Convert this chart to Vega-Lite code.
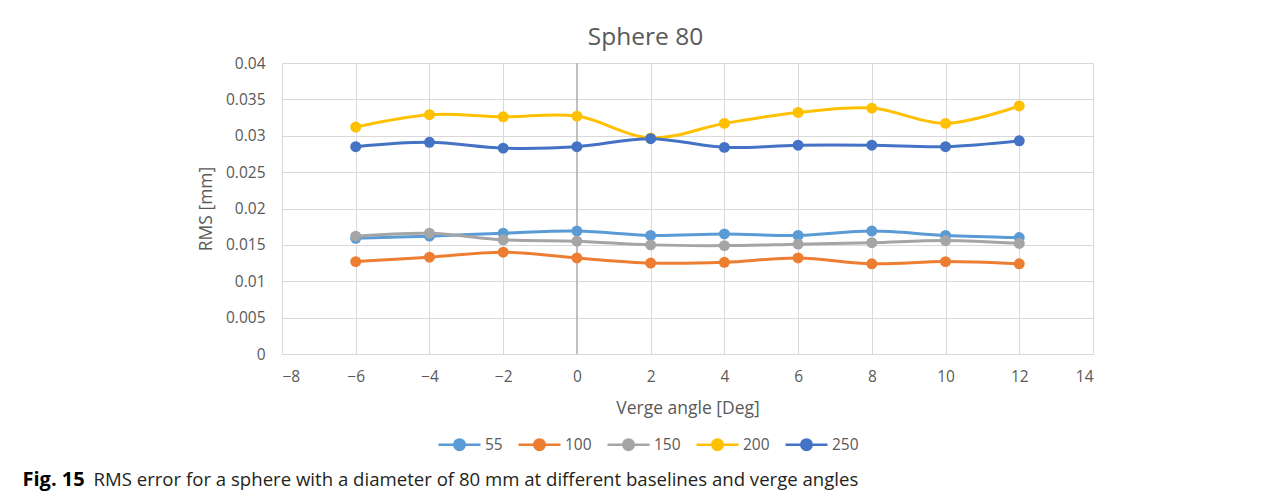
{
  "$schema": "https://vega.github.io/schema/vega-lite/v6.json",
  "width": 811,
  "height": 291,
  "autosize": {"type": "none"},
  "padding": {"left": 282, "top": 63, "right": 191, "bottom": 141},
  "background": "white",
  "title": {
    "text": "Sphere 80",
    "anchor": "middle",
    "frame": "group",
    "dx": -42,
    "dy": 30,
    "offset": 17,
    "baseline": "alphabetic",
    "font": "Open Sans",
    "fontSize": 24.5,
    "fontWeight": "normal",
    "color": "#595959"
  },
  "config": {
    "view": {"stroke": null},
    "font": "Open Sans",
    "axis": {
      "labelFont": "Open Sans",
      "titleFont": "Open Sans",
      "labelColor": "#595959",
      "titleColor": "#595959",
      "labelFontSize": 15.5,
      "titleFontSize": 17.5,
      "titleFontWeight": "normal",
      "gridColor": "#D9D9D9",
      "gridWidth": 1,
      "ticks": false
    }
  },
  "resolve": {"axis": {"x": "independent"}},
  "layer": [
    {
      "data": {"values": [{"angle": 0}]},
      "mark": {"type": "rule", "color": "#A6A6A6", "strokeWidth": 1.2},
      "encoding": {
        "x": {
          "field": "angle",
          "type": "quantitative",
          "scale": {"domain": [-8, 14], "nice": false},
          "axis": {
            "orient": "top",
            "title": "Fig. 15",
            "titleFontWeight": "bold",
            "titleColor": "#000000",
            "titleFontSize": 20,
            "titleX": -260,
            "titleY": 422,
            "titleAngle": 0,
            "titleAlign": "left",
            "titleAnchor": "start",
            "titleBaseline": "alphabetic",
            "labels": false,
            "domain": false,
            "grid": false,
            "ticks": false
          }
        }
      }
    },
    {
      "data": {
        "values": [
          {"angle": -6, "baseline": "55", "rms": 0.0159},
          {"angle": -4, "baseline": "55", "rms": 0.0162},
          {"angle": -2, "baseline": "55", "rms": 0.0166},
          {"angle": 0, "baseline": "55", "rms": 0.0169},
          {"angle": 2, "baseline": "55", "rms": 0.0163},
          {"angle": 4, "baseline": "55", "rms": 0.0165},
          {"angle": 6, "baseline": "55", "rms": 0.0163},
          {"angle": 8, "baseline": "55", "rms": 0.0169},
          {"angle": 10, "baseline": "55", "rms": 0.0163},
          {"angle": 12, "baseline": "55", "rms": 0.0160},
          {"angle": -6, "baseline": "100", "rms": 0.0127},
          {"angle": -4, "baseline": "100", "rms": 0.0133},
          {"angle": -2, "baseline": "100", "rms": 0.0140},
          {"angle": 0, "baseline": "100", "rms": 0.0132},
          {"angle": 2, "baseline": "100", "rms": 0.0125},
          {"angle": 4, "baseline": "100", "rms": 0.0126},
          {"angle": 6, "baseline": "100", "rms": 0.0132},
          {"angle": 8, "baseline": "100", "rms": 0.0124},
          {"angle": 10, "baseline": "100", "rms": 0.0127},
          {"angle": 12, "baseline": "100", "rms": 0.0124},
          {"angle": -6, "baseline": "150", "rms": 0.0162},
          {"angle": -4, "baseline": "150", "rms": 0.0166},
          {"angle": -2, "baseline": "150", "rms": 0.0157},
          {"angle": 0, "baseline": "150", "rms": 0.0155},
          {"angle": 2, "baseline": "150", "rms": 0.0150},
          {"angle": 4, "baseline": "150", "rms": 0.0149},
          {"angle": 6, "baseline": "150", "rms": 0.0151},
          {"angle": 8, "baseline": "150", "rms": 0.0153},
          {"angle": 10, "baseline": "150", "rms": 0.0156},
          {"angle": 12, "baseline": "150", "rms": 0.0152},
          {"angle": -6, "baseline": "200", "rms": 0.0312},
          {"angle": -4, "baseline": "200", "rms": 0.0329},
          {"angle": -2, "baseline": "200", "rms": 0.0326},
          {"angle": 0, "baseline": "200", "rms": 0.0327},
          {"angle": 2, "baseline": "200", "rms": 0.0297},
          {"angle": 4, "baseline": "200", "rms": 0.0317},
          {"angle": 6, "baseline": "200", "rms": 0.0332},
          {"angle": 8, "baseline": "200", "rms": 0.0338},
          {"angle": 10, "baseline": "200", "rms": 0.0317},
          {"angle": 12, "baseline": "200", "rms": 0.0341},
          {"angle": -6, "baseline": "250", "rms": 0.0285},
          {"angle": -4, "baseline": "250", "rms": 0.0291},
          {"angle": -2, "baseline": "250", "rms": 0.0283},
          {"angle": 0, "baseline": "250", "rms": 0.0285},
          {"angle": 2, "baseline": "250", "rms": 0.0296},
          {"angle": 4, "baseline": "250", "rms": 0.0284},
          {"angle": 6, "baseline": "250", "rms": 0.0287},
          {"angle": 8, "baseline": "250", "rms": 0.0287},
          {"angle": 10, "baseline": "250", "rms": 0.0285},
          {"angle": 12, "baseline": "250", "rms": 0.0293}
        ]
      },
      "encoding": {
        "x": {
          "field": "angle",
          "type": "quantitative",
          "scale": {"domain": [-8, 14], "nice": false},
          "axis": {
            "orient": "bottom",
            "title": "Verge angle [Deg]",
            "values": [-8, -6, -4, -2, 0, 2, 4, 6, 8, 10, 12, 14],
            "labelPadding": 15,
            "titlePadding": 15,
            "domain": true,
            "domainColor": "#D9D9D9",
            "grid": true
          }
        },
        "color": {
          "field": "baseline",
          "type": "nominal",
          "scale": {
            "domain": ["55", "100", "150", "200", "250"],
            "range": ["#5B9BD5", "#ED7D31", "#A5A5A5", "#FFC000", "#4472C4"]
          },
          "legend": {
            "title": null,
            "orient": "none",
            "direction": "horizontal",
            "legendX": 155,
            "legendY": 359,
            "symbolType": "M-1,0H1M-0.25,0A0.25,0.25 0 1,0 0.25,0A0.25,0.25 0 1,0 -0.25,0",
            "symbolSize": 1764,
            "symbolStrokeWidth": 2.5,
            "labelFont": "Open Sans",
            "labelFontSize": 15.5,
            "labelColor": "#595959",
            "labelOffset": 3,
            "columnPadding": 10,
            "encode": {
              "symbols": {
                "update": {
                  "fill": {"scale": "color", "field": "value"},
                  "stroke": {"scale": "color", "field": "value"},
                  "shape": {"value": "M-1,0H1M-0.25,0A0.25,0.25 0 1,0 0.25,0A0.25,0.25 0 1,0 -0.25,0"},
                  "strokeWidth": {"value": 2.5},
                  "opacity": {"value": 1}
                }
              }
            }
          }
        }
      },
      "resolve": {"axis": {"y": "independent"}},
      "layer": [
        {
          "mark": {"type": "line", "interpolate": "catmull-rom", "strokeWidth": 3},
          "encoding": {
            "y": {
              "field": "rms",
              "type": "quantitative",
              "scale": {"domain": [0, 0.04], "nice": false},
              "axis": {
                "orient": "left",
                "title": "RMS [mm]",
                "values": [0, 0.005, 0.01, 0.015, 0.02, 0.025, 0.03, 0.035, 0.04],
                "format": "~g",
                "labelPadding": 17,
                "titlePadding": 10,
                "domain": false,
                "grid": true
              }
            }
          }
        },
        {
          "mark": {"type": "point", "filled": true, "size": 120, "opacity": 1},
          "encoding": {
            "y": {
              "field": "rms",
              "type": "quantitative",
              "scale": {"domain": [0, 0.04], "nice": false},
              "axis": {
                "orient": "right",
                "title": "RMS error for a sphere with a diameter of 80 mm at different baselines and verge angles",
                "titleColor": "#231f20",
                "titleFontSize": 18.6,
                "titleX": -1000,
                "titleY": 422,
                "titleAngle": 0,
                "titleAlign": "left",
                "titleAnchor": "start",
                "titleBaseline": "alphabetic",
                "labels": false,
                "domain": false,
                "grid": false,
                "ticks": false
              }
            }
          }
        }
      ]
    }
  ]
}
